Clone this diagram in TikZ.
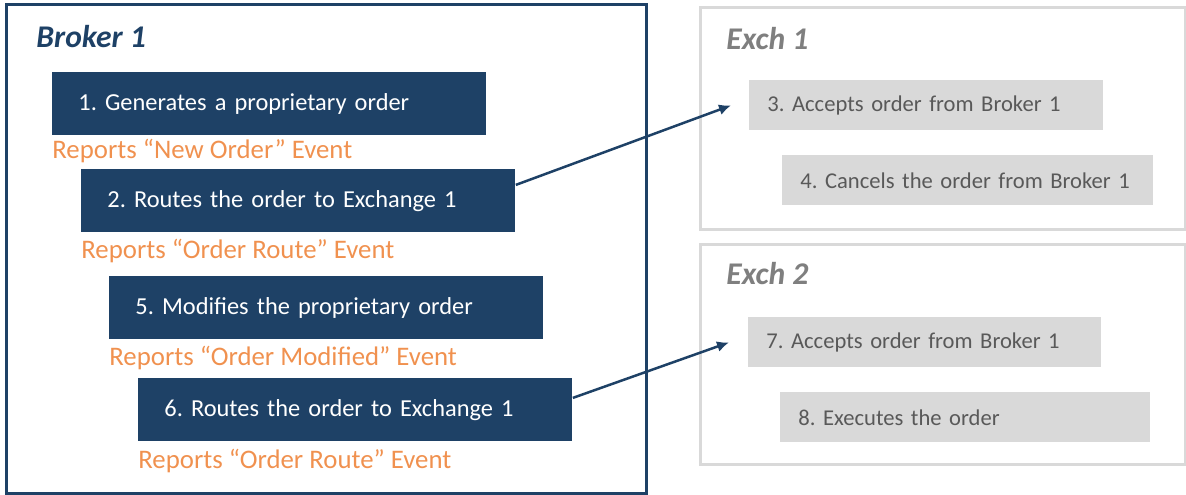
\documentclass[tikz,border=0pt]{standalone}
\usepackage{fontspec}
\setmainfont{Carlito}
\usepackage{tikz}
\usetikzlibrary{arrows.meta, positioning}
\frenchspacing
\definecolor{brokerblue}{HTML}{1E4166}
\definecolor{eventorange}{HTML}{F0914F}
\definecolor{exchgray}{HTML}{D9D9D9}
\definecolor{exchtext}{HTML}{595959}
\definecolor{exchtitle}{HTML}{7F7F7F}
\tikzset{
    orderbox/.style={
        fill=brokerblue,
        text=white,
        anchor=north west,
        text width=191pt,
        align=left,
        inner xsep=13pt,
        inner ysep=0pt,
        minimum height=31.5pt,
        font=\fontsize{12.2}{14}\selectfont\frenchspacing
    },
    eventlbl/.style={
        text=eventorange,
        inner sep=0pt,
        font=\fontsize{13.4}{15}\selectfont\frenchspacing
    },
    exchbox/.style={
        fill=exchgray,
        text=exchtext,
        anchor=north west,
        text width=#1,
        align=left,
        inner xsep=9pt,
        inner ysep=0pt,
        minimum height=25pt,
        font=\fontsize{11.3}{14}\selectfont\frenchspacing
    },
    frame/.style={anchor=north west, inner sep=0pt},
    framelbl/.style={anchor=west, inner sep=0pt, font=\fontsize{15.8}{18}\selectfont\bfseries\itshape},
    flow/.style={-{Latex[length=6pt, width=5.5pt]}, line width=1.25pt, draw=brokerblue}
}
\begin{document}
\begin{tikzpicture}[x=0.5pt, y=-0.5pt]
    \useasboundingbox (0,0) rectangle (1186,494);

    % frames
    \node[frame, draw=brokerblue, line width=1.3pt, minimum width=320pt, minimum height=244.5pt] (broker) at (5,3) {};
    \node[frame, draw=exchgray, line width=1.5pt, minimum width=242.5pt, minimum height=111pt] (exch1) at (699,6) {};
    \node[frame, draw=exchgray, line width=1.5pt, minimum width=242.5pt, minimum height=110pt] (exch2) at (699,243) {};

    \node[framelbl, text=brokerblue] (brokertitle) at (36,37) {Broker 1};
    \node[framelbl, text=exchtitle] (exch1title) at (726,39) {Exch 1};
    \node[framelbl, text=exchtitle] (exch2title) at (726,274) {Exch 2};

    % broker steps
    \node[orderbox] (generate) at (52,72) {1. Generates a proprietary order};
    \node[eventlbl, below=7.5pt of generate.south west, anchor=west] (evnew) {Reports “New Order” Event};
    \node[orderbox] (route1) at (81,169) {2. Routes the order to Exchange 1};
    \node[eventlbl, below=9pt of route1.south west, anchor=west] (evroute1) {Reports “Order Route” Event};
    \node[orderbox] (modify) at (109,276) {5. Modifies the proprietary order};
    \node[eventlbl, below=9pt of modify.south west, anchor=west] (evmodify) {Reports “Order Modified” Event};
    \node[orderbox] (route2) at (138,378) {6. Routes the order to Exchange 1};
    \node[eventlbl, below=9.5pt of route2.south west, anchor=west] (evroute2) {Reports “Order Route” Event};

    % exchange steps
    \node[exchbox=159pt] (accept1) at (749,80) {3. Accepts order from Broker 1};
    \node[exchbox=167.5pt] (cancel) at (782,155) {4. Cancels the order from Broker~1};
    \node[exchbox=158.5pt] (accept2) at (748,317) {7. Accepts order from Broker 1};
    \node[exchbox=167pt] (execute) at (780,392) {8. Executes the order};

    \draw[flow] ([yshift=8pt]route1.east) -- ([xshift=-9pt]accept1.west);
    \draw[flow] ([yshift=6pt]route2.east) -- ([xshift=-9.5pt]accept2.west);
\end{tikzpicture}
\end{document}
